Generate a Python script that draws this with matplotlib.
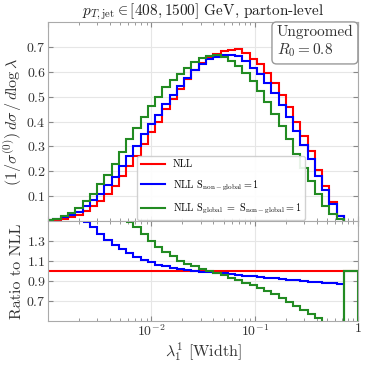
import numpy as np
import matplotlib
matplotlib.use("Agg")
import matplotlib.pyplot as plt

plt.rcParams["font.family"] = "serif"
plt.rcParams["font.serif"] = ["cmr10", "DejaVu Serif"]
plt.rcParams["mathtext.fontset"] = "cm"
plt.rcParams["axes.formatter.use_mathtext"] = True

# bin edges in lambda (log binning), last wide bin up to 1
edges = np.append(np.logspace(-3.017, -0.135, 42), 1.0)

nll = [0.003, 0.006, 0.010, 0.016, 0.026, 0.040, 0.060, 0.080, 0.110, 0.140,
       0.183, 0.223, 0.263, 0.310, 0.356, 0.400, 0.450, 0.490, 0.530, 0.570,
       0.607, 0.635, 0.658, 0.673, 0.683, 0.689, 0.690, 0.675, 0.650, 0.630,
       0.595, 0.555, 0.505, 0.460, 0.400, 0.340, 0.280, 0.205, 0.140, 0.077,
       0.022]
nll_sng = [0.004, 0.008, 0.015, 0.024, 0.038, 0.060, 0.086, 0.110, 0.144, 0.177,
           0.223, 0.262, 0.303, 0.348, 0.389, 0.427, 0.472, 0.506, 0.541, 0.576,
           0.607, 0.632, 0.650, 0.661, 0.667, 0.668, 0.664, 0.645, 0.616, 0.592,
           0.555, 0.514, 0.465, 0.420, 0.363, 0.306, 0.251, 0.182, 0.124, 0.068,
           0.019]
nll_sg_sng = [0.005, 0.010, 0.020, 0.032, 0.053, 0.080, 0.110, 0.147, 0.187, 0.230,
              0.278, 0.330, 0.375, 0.420, 0.462, 0.498, 0.537, 0.565, 0.590, 0.615,
              0.640, 0.655, 0.665, 0.668, 0.660, 0.645, 0.625, 0.595, 0.561, 0.522,
              0.480, 0.430, 0.380, 0.330, 0.270, 0.215, 0.160, 0.110, 0.060, 0.028,
              0.008]

nan = np.nan
ratio_nll = [1.0] * 42
ratio_sng = [nan, nan, nan, nan, nan, 1.49, 1.437, 1.37, 1.313, 1.263,
             1.22, 1.177, 1.143, 1.113, 1.087, 1.063, 1.047, 1.03, 1.02, 1.01,
             1.0, 0.995, 0.988, 0.982, 0.976, 0.97, 0.962, 0.955, 0.947, 0.94,
             0.933, 0.926, 0.92, 0.913, 0.907, 0.9, 0.895, 0.889, 0.884, 0.878,
             0.873, nan]
ratio_sg_sng = [nan, nan, nan, nan, nan, nan, nan, nan, nan, nan,
                nan, 1.49, 1.437, 1.37, 1.303, 1.243, 1.187, 1.147, 1.103, 1.07,
                1.047, 1.025, 1.0, 0.98, 0.96, 0.935, 0.91, 0.885, 0.863, 0.835,
                0.805, 0.77, 0.73, 0.69, 0.65, 0.61, 0.57, 0.525, 0.43, 0.36,
                0.36, 1.0]

labels = ["NLL",
          r"NLL $\mathrm{S}_{\mathrm{non-global}} = 1$",
          r"NLL $\mathrm{S}_{\mathrm{global}}\ =\ \mathrm{S}_{\mathrm{non-global}} = 1$"]
colors = ["red", "blue", "forestgreen"]

fig = plt.figure(figsize=(3.66, 3.66), dpi=100)
ax1 = fig.add_axes([0.131, 0.396, 0.847, 0.544])
ax2 = fig.add_axes([0.131, 0.123, 0.847, 0.273])

for vals, c, lab in zip([nll, nll_sng, nll_sg_sng], colors, labels):
    ax1.stairs(vals, edges[:42], color=c, lw=1.5, label=lab, baseline=0)
for vals, c in zip([ratio_nll, ratio_sng, ratio_sg_sng], colors):
    ax2.stairs(vals, edges, color=c, lw=1.5, baseline=None)
# last (empty) bin of the green ratio drops back down at the edge
ax2.stairs(ratio_sg_sng[-1:], edges[-2:], color=colors[2], lw=1.5, baseline=0)

for ax in (ax1, ax2):
    ax.set_xscale("log")
    ax.set_xlim(1e-3, 1)
    ax.grid(True, which="major", color="#e6e6e6", lw=0.8)
    ax.set_axisbelow(True)
    for s in ax.spines.values():
        s.set_color("#aaaaaa")
    ax.tick_params(which="both", direction="in", top=True, right=True,
                   colors="#888888", labelcolor="#333333", labelsize=10)
    ax.tick_params(which="major", length=3.5, pad=1.5)
    ax.tick_params(which="minor", length=2)

ax1.set_ylim(0, 0.8)
ax1.set_yticks([0.1, 0.2, 0.3, 0.4, 0.5, 0.6, 0.7])
ax1.tick_params(labelbottom=False)
ax1.set_ylabel(r"$(1/\sigma^{(0)})\,d\sigma\,/\,d\log\lambda$", fontsize=11.5,
               color="#333333")
ax1.yaxis.set_label_coords(-0.078, 0.5)
ax1.set_title(r"$p_{T,\mathrm{jet}} \in [408, 1500]$ GeV, parton-level",
              fontsize=11, pad=3, color="#222222")
ax1.text(0.985, 0.985, "Ungroomed\n$R_0 = 0.8$", transform=ax1.transAxes,
         ha="right", va="top", multialignment="left", fontsize=11, color="#333333",
         bbox=dict(boxstyle="round,pad=0.3", fc="white", ec="#999999"))
ax1.legend(loc="lower left", bbox_to_anchor=(0.285, 0.0), borderaxespad=0.1,
           fontsize=7.3, frameon=True, edgecolor="#cccccc", framealpha=0.9,
           handlelength=2.3, labelspacing=0.9)

ax2.set_ylim(0.5, 1.5)
ax2.set_yticks([0.7, 0.9, 1.1, 1.3])
ax2.set_xticks([1e-2, 1e-1, 1])
ax2.set_xticklabels([r"$10^{-2}$", r"$10^{-1}$", "1"])
ax2.set_ylabel("Ratio to NLL", fontsize=11.5, color="#333333")
ax2.yaxis.set_label_coords(-0.078, 0.5)
ax2.set_xlabel(r"$\lambda_1^1$ [Width]", fontsize=11.5, color="#333333", labelpad=1)

fig.savefig("out.png", dpi=100)
